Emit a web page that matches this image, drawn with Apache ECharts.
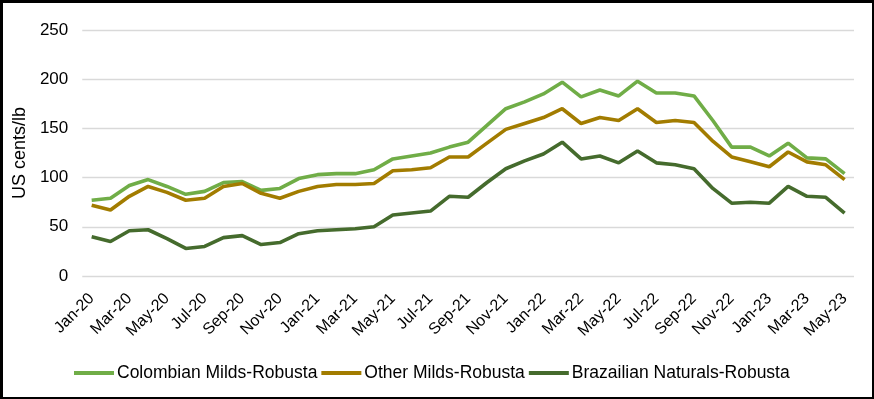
<!DOCTYPE html>
<html>
<head>
<meta charset="utf-8">
<script src="https://cdn.jsdelivr.net/npm/echarts@6/dist/echarts.min.js"></script>
<style>
  html, body { margin: 0; padding: 0; background: #fff; }
  #chart { width: 874px; height: 399px; box-sizing: border-box; border: 2px solid #000; border-left-width: 3px; border-top-width: 3px; }
</style>
</head>
<body>
<div id="chart"></div>
<script>
var months = [
  'Jan-20','Feb-20','Mar-20','Apr-20','May-20','Jun-20','Jul-20','Aug-20','Sep-20','Oct-20','Nov-20','Dec-20',
  'Jan-21','Feb-21','Mar-21','Apr-21','May-21','Jun-21','Jul-21','Aug-21','Sep-21','Oct-21','Nov-21','Dec-21',
  'Jan-22','Feb-22','Mar-22','Apr-22','May-22','Jun-22','Jul-22','Aug-22','Sep-22','Oct-22','Nov-22','Dec-22',
  'Jan-23','Feb-23','Mar-23','Apr-23','May-23'
];

// Colombian Milds-Robusta
var colombian = [
  77, 79, 92, 98, 91, 83, 86, 95, 96, 87, 89, 99,
  103, 104, 104, 108, 119, 122, 125, 131, 136, 153, 170, 177,
  185, 197, 182, 189, 183, 198, 186, 186, 183, 158, 131, 131,
  122, 135, 120, 119, 104
];

// Other Milds-Robusta
var otherMilds = [
  72, 67, 81, 91, 85, 77, 79, 91, 94, 84, 79, 86,
  91, 93, 93, 94, 107, 108, 110, 121, 121, 135, 149, 155,
  161, 170, 155, 161, 158, 170, 156, 158, 156, 137, 121, 116,
  111, 126, 116, 113, 98
];

// Brazailian Naturals-Robusta
var brazilian = [
  40, 35, 46, 47, 38, 28, 30, 39, 41, 32, 34, 43,
  46, 47, 48, 50, 62, 64, 66, 81, 80, 95, 109, 117,
  124, 136, 119, 122, 115, 127, 115, 113, 109, 89, 74, 75,
  74, 91, 81, 80, 64
];

var myChart = echarts.init(document.getElementById('chart'));
var option;

var font = 'Arial, "Liberation Sans", sans-serif';

option = {
  animation: false,
  textStyle: { fontFamily: font },
  grid: { left: 79, right: 18, top: 27, bottom: 121 },
  legend: {
    bottom: 10,
    left: 66,
    icon: 'rect',
    itemWidth: 40,
    itemHeight: 4,
    itemGap: 4,
    textStyle: { fontSize: 17.5, color: '#000', padding: [0, 0, 0, -2] },
    data: ['Colombian Milds-Robusta', 'Other Milds-Robusta', 'Brazailian Naturals-Robusta']
  },
  xAxis: {
    type: 'category',
    data: months,
    boundaryGap: true,
    axisLine: { show: false },
    axisTick: { show: false },
    axisLabel: { interval: 1, rotate: 45, fontSize: 16, color: '#000', margin: 20 }
  },
  yAxis: {
    type: 'value',
    min: 0,
    max: 250,
    interval: 50,
    name: 'US cents/lb',
    nameLocation: 'middle',
    nameGap: 52,
    nameTextStyle: { fontSize: 18, color: '#000' },
    axisLine: { show: false },
    axisTick: { show: false },
    axisLabel: { fontSize: 17, color: '#000', margin: 14 },
    splitLine: { lineStyle: { color: '#d9d9d9', width: 1.3 } }
  },
  series: [
    {
      name: 'Colombian Milds-Robusta',
      type: 'line',
      data: colombian,
      symbol: 'none',
      itemStyle: { color: '#70AD47' },
      lineStyle: { color: '#70AD47', width: 3.6 }
    },
    {
      name: 'Other Milds-Robusta',
      type: 'line',
      data: otherMilds,
      symbol: 'none',
      itemStyle: { color: '#A27C00' },
      lineStyle: { color: '#A27C00', width: 3.6 }
    },
    {
      name: 'Brazailian Naturals-Robusta',
      type: 'line',
      data: brazilian,
      symbol: 'none',
      itemStyle: { color: '#456B2D' },
      lineStyle: { color: '#456B2D', width: 3.6 }
    }
  ]
};
myChart.setOption(option);
</script>
</body>
</html>
